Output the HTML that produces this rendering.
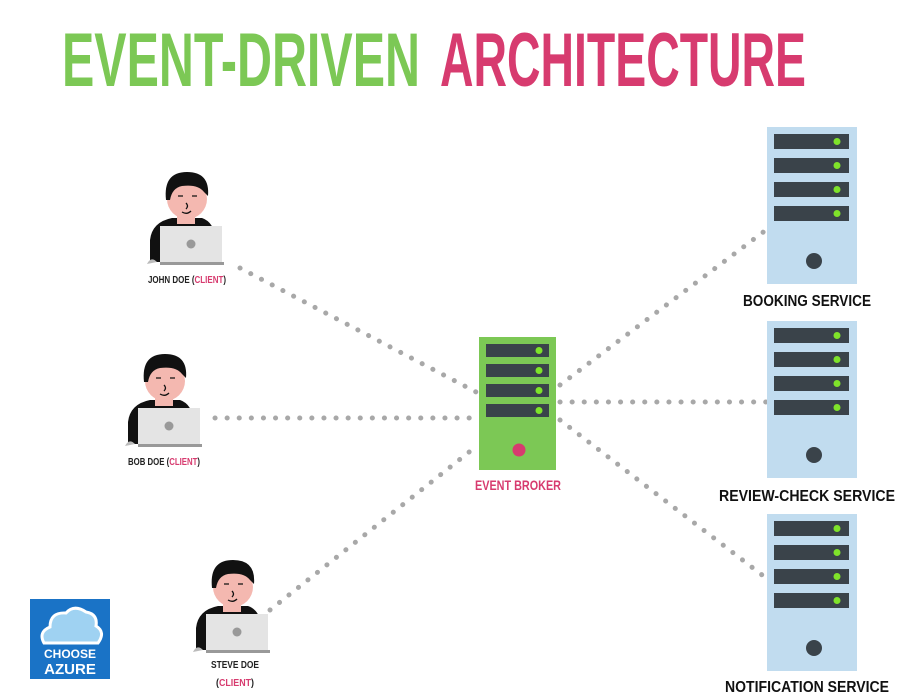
<!DOCTYPE html>
<html><head><style>
html,body{margin:0;padding:0;background:#fff;width:900px;height:700px;overflow:hidden}
svg{display:block}
text{font-family:"Liberation Sans",sans-serif;font-weight:bold}
</style></head><body>
<svg width="900" height="700" viewBox="0 0 900 700" xmlns="http://www.w3.org/2000/svg">
<defs>
<g id="person">
  <path d="M150,262 L150,240 Q152,222 172,218 L202,218 Q214,222 216,240 L216,262 Z" fill="#111"/>
  <rect x="177" y="210" width="18" height="14" fill="#f4b8b0"/>
  <circle cx="187" cy="199" r="20" fill="#f4b8b0"/>
  <path d="M166,200 Q163,172 187,172 Q210,172 208,196 L204,192 Q198,184 182,186 Q172,188 170,200 Z" fill="#111"/>
  <path d="M186,203 q3,3 0,6 M182,212 q5,3 9,-1 M178,196 h5 M192,196 h5" stroke="#111" stroke-width="1.3" fill="none"/>
  <path d="M147,264 q4,-8 10,-2 Z" fill="#bbb"/>
  <rect x="160" y="226" width="62" height="37" fill="#e4e4e4"/>
  <rect x="160" y="262" width="64" height="3" fill="#999"/>
  <circle cx="191" cy="244" r="4.5" fill="#999"/>
</g>
<g id="rack">
  <rect x="0" y="0" width="90" height="157" fill="#c1dcef"/>
  <rect x="7" y="7" width="75" height="15" fill="#3a434a"/>
  <rect x="7" y="31" width="75" height="15" fill="#3a434a"/>
  <rect x="7" y="55" width="75" height="15" fill="#3a434a"/>
  <rect x="7" y="79" width="75" height="15" fill="#3a434a"/>
  <circle cx="70" cy="14.5" r="3.5" fill="#7fe32a"/>
  <circle cx="70" cy="38.5" r="3.5" fill="#7fe32a"/>
  <circle cx="70" cy="62.5" r="3.5" fill="#7fe32a"/>
  <circle cx="70" cy="86.5" r="3.5" fill="#7fe32a"/>
  <circle cx="47" cy="134" r="8" fill="#3a434a"/>
</g>
</defs>

<text x="62" y="86" font-size="76" fill="#7cc855" textLength="358" lengthAdjust="spacingAndGlyphs">EVENT-DRIVEN</text>
<text x="440" y="86" font-size="76" fill="#d73b6f" textLength="366" lengthAdjust="spacingAndGlyphs">ARCHITECTURE</text>

<g stroke="#a8a8a8" stroke-width="5" stroke-linecap="round" stroke-dasharray="0.1 12" fill="none">
  <line x1="240" y1="268" x2="478" y2="393"/>
  <line x1="215" y1="418" x2="478" y2="418"/>
  <line x1="270" y1="610" x2="478" y2="445"/>
  <line x1="560" y1="385" x2="766" y2="230"/>
  <line x1="560" y1="402" x2="766" y2="402"/>
  <line x1="560" y1="420" x2="766" y2="578"/>
</g>

<use href="#person"/>
<use href="#person" transform="translate(-22,182)"/>
<use href="#person" transform="translate(46,388)"/>

<g font-size="10" text-anchor="middle">
  <text x="187" y="283" fill="#222" textLength="78" lengthAdjust="spacingAndGlyphs">JOHN DOE (<tspan fill="#d73b6f">CLIENT</tspan>)</text>
  <text x="164" y="465" fill="#222" textLength="72" lengthAdjust="spacingAndGlyphs">BOB DOE (<tspan fill="#d73b6f">CLIENT</tspan>)</text>
  <text x="235" y="668" fill="#222" textLength="48" lengthAdjust="spacingAndGlyphs">STEVE DOE</text>
  <text x="235" y="686" fill="#222" textLength="38" lengthAdjust="spacingAndGlyphs">(<tspan fill="#d73b6f">CLIENT</tspan>)</text>
</g>

<rect x="479" y="337" width="77" height="133" fill="#7cc855"/>
<g fill="#3a434a">
  <rect x="486" y="344" width="63" height="13"/>
  <rect x="486" y="364" width="63" height="13"/>
  <rect x="486" y="384" width="63" height="13"/>
  <rect x="486" y="404" width="63" height="13"/>
</g>
<g fill="#7fe32a">
  <circle cx="539" cy="350.5" r="3.5"/><circle cx="539" cy="370.5" r="3.5"/>
  <circle cx="539" cy="390.5" r="3.5"/><circle cx="539" cy="410.5" r="3.5"/>
</g>
<circle cx="519" cy="450" r="6.5" fill="#d73b6f"/>
<text x="518" y="490" font-size="14" fill="#d73b6f" text-anchor="middle" textLength="86" lengthAdjust="spacingAndGlyphs">EVENT BROKER</text>

<use href="#rack" transform="translate(767,127)"/>
<use href="#rack" transform="translate(767,321)"/>
<use href="#rack" transform="translate(767,514)"/>
<g font-size="16" fill="#111" text-anchor="middle">
  <text x="807" y="306" textLength="128" lengthAdjust="spacingAndGlyphs">BOOKING SERVICE</text>
  <text x="807" y="501" textLength="176" lengthAdjust="spacingAndGlyphs">REVIEW-CHECK SERVICE</text>
  <text x="807" y="692" textLength="164" lengthAdjust="spacingAndGlyphs">NOTIFICATION SERVICE</text>
</g>

<rect x="30" y="599" width="80" height="80" fill="#1a73c6"/>
<path d="M44,643 Q38,632 50,627 Q50,612 66,613 Q74,604 86,612 Q98,614 96,626 Q106,632 98,643 Z" fill="#9fd2f2" stroke="#fff" stroke-width="3"/>
<text x="70" y="658" font-size="12" fill="#fff" text-anchor="middle">CHOOSE</text>
<text x="70" y="674" font-size="15" fill="#fff" text-anchor="middle">AZURE</text>
</svg>
</body></html>
